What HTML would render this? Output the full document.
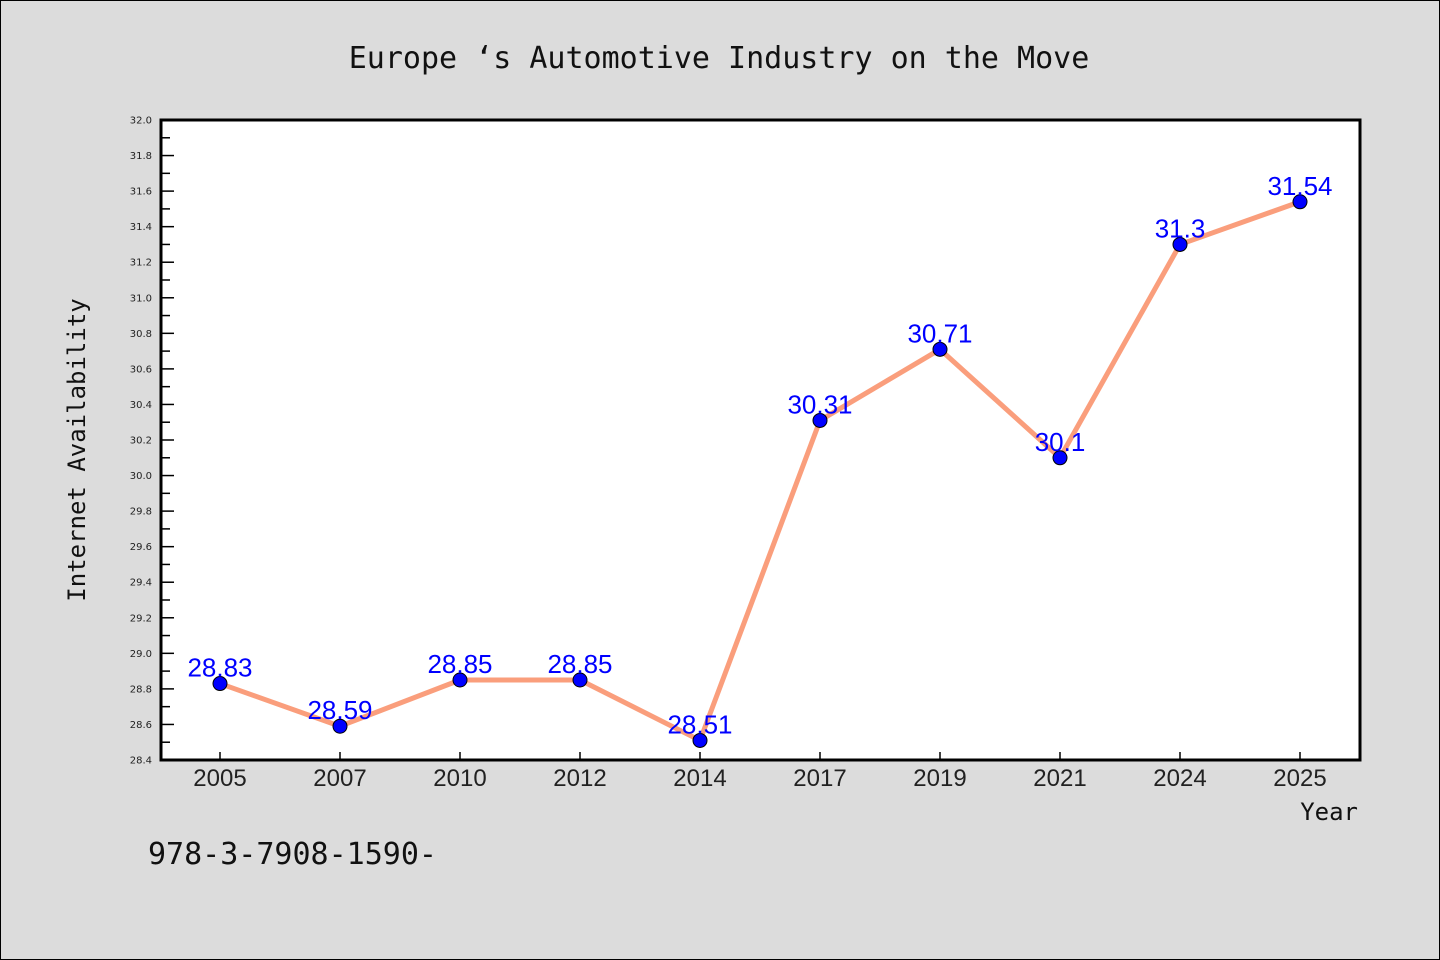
<!DOCTYPE html>
<html><head><meta charset="utf-8"><style>
html,body{margin:0;padding:0;background:#dcdcdc;}
svg{display:block;}
</style></head><body>
<svg id="chart" width="1440" height="960" xmlns="http://www.w3.org/2000/svg">
<rect x="0.5" y="0.5" width="1439" height="959" fill="#dcdcdc" stroke="#000" stroke-width="1"/>
<text x="719" y="68" text-anchor="middle" font-family="'WenQuanYi Zen Hei','DejaVu Sans Mono',monospace" font-size="30" fill="#111">Europe ‘s Automotive Industry on the Move</text>
<rect x="161" y="120" width="1199" height="640" fill="#fff"/>
<g id="yaxis"></g>
<g id="xaxis"></g>
<g id="series"></g>
<rect x="161" y="120" width="1199" height="640" fill="none" stroke="#000" stroke-width="3"/>
<text transform="translate(85,450) rotate(-90)" text-anchor="middle" font-family="'WenQuanYi Zen Hei','DejaVu Sans Mono',monospace" font-size="24" fill="#111">Internet Availability</text>
<text x="1358" y="820" text-anchor="end" font-family="'WenQuanYi Zen Hei','DejaVu Sans Mono',monospace" font-size="24" fill="#111">Year</text>
<text x="148" y="864" font-family="'WenQuanYi Zen Hei','DejaVu Sans Mono',monospace" font-size="30" fill="#111">978-3-7908-1590-</text>
</svg>
<script>
const categories = ["2005","2007","2010","2012","2014","2017","2019","2021","2024","2025"];
const values = [28.83,28.59,28.85,28.85,28.51,30.31,30.71,30.1,31.3,31.54];
const valueLabels = ["28.83","28.59","28.85","28.85","28.51","30.31","30.71","30.1","31.3","31.54"];
const yTicks = ["28.4","28.6","28.8","29.0","29.2","29.4","29.6","29.8","30.0","30.2","30.4","30.6","30.8","31.0","31.2","31.4","31.6","31.8","32.0"];
const NS="http://www.w3.org/2000/svg";
const yMin=28.4,yMax=32.0,plotTop=120,plotBottom=760,plotLeft=161;
function yScale(v){return plotBottom-(v-yMin)/(yMax-yMin)*(plotBottom-plotTop);}
function xScale(i){return 220+i*120;}
function mk(tag,attrs,parent){const e=document.createElementNS(NS,tag);for(const k in attrs)e.setAttribute(k,attrs[k]);parent.appendChild(e);return e;}
const ya=document.getElementById('yaxis'),xa=document.getElementById('xaxis'),sg=document.getElementById('series');
yTicks.forEach((t,i)=>{
  const v=parseFloat(t),yy=yScale(v);
  const l=mk('line',{x1:plotLeft,x2:plotLeft+13,y1:yy,y2:yy,stroke:'#000','stroke-width':1.5},ya);
  
  
  const tx=mk('text',{x:152,y:yy+3.5,'text-anchor':'end','font-family':'DejaVu Sans,sans-serif','font-size':10,fill:'#222'},ya);
  tx.textContent=t;
  
  
  if(i<yTicks.length-1){
    const ym=yScale(v+0.1);
    const m=mk('line',{x1:plotLeft,x2:plotLeft+9,y1:ym,y2:ym,stroke:'#000','stroke-width':1.5},ya);
    
    
  }
});
categories.forEach((c,i)=>{
  const t=mk('line',{x1:xScale(i),x2:xScale(i),y1:plotBottom,y2:plotBottom-8,stroke:'#000','stroke-width':1.5},xa);
  
  
  const tx=mk('text',{x:xScale(i),y:786,'text-anchor':'middle','font-family':'Liberation Sans,sans-serif','font-size':24,fill:'#222'},xa);
  tx.textContent=c;
  
  
});
const pl=mk('polyline',{points:values.map((v,i)=>xScale(i)+','+yScale(v)).join(' '),fill:'none',stroke:'#fa9e7c','stroke-width':5,'stroke-linejoin':'round'},sg);


values.forEach((v,i)=>{
  const c=mk('circle',{cx:xScale(i),cy:yScale(v),r:7,fill:'#0000ff',stroke:'#000','stroke-width':1},sg);
  
  
});
values.forEach((v,i)=>{
  const t=mk('text',{x:xScale(i),y:yScale(v)-7,'text-anchor':'middle','font-family':'Liberation Sans,sans-serif','font-size':26,fill:'#0000ff'},sg);
  t.textContent=valueLabels[i];
  
  
});
</script>
</body></html>
